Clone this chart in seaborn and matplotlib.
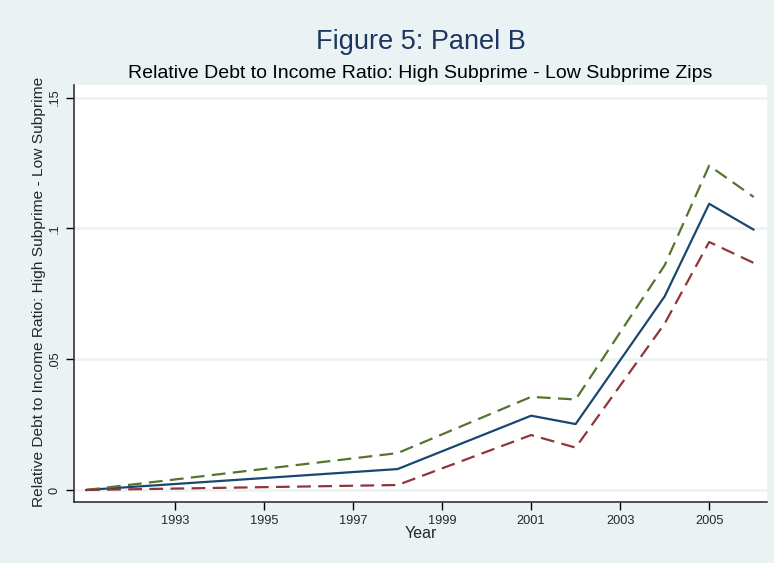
import numpy as np
import pandas as pd
import seaborn as sns
import matplotlib.pyplot as plt

# values
years = [1991, 1998, 2001, 2002, 2004, 2005, 2006]
estimate = [0.0, 0.0080, 0.0284, 0.0252, 0.0740, 0.1094, 0.0995]
upper_ci = [0.0, 0.0141, 0.0356, 0.0346, 0.0859, 0.1240, 0.1120]
lower_ci = [0.0, 0.0019, 0.0210, 0.0162, 0.0636, 0.0948, 0.0868]

x_ticks = [1993, 1995, 1997, 1999, 2001, 2003, 2005]
y_ticks = [0, 0.05, 0.10, 0.15]
y_tick_labels = ["0", ".05", ".1", ".15"]

BG = "#eaf2f3"
NAVY = "#1a476f"
GREEN = "#55752f"
MAROON = "#90353b"

df = pd.DataFrame({"year": years, "est": estimate, "hi": upper_ci, "lo": lower_ci})

sns.set_style("white")
plt.rcParams["font.family"] = ["Liberation Sans", "DejaVu Sans"]

fig = plt.figure(figsize=(7.74, 5.63), dpi=100, facecolor=BG)
ax = fig.add_axes([0.0956, 0.1083, 0.8954, 0.7407])
ax.set_facecolor("white")

for y in y_ticks:
    ax.axhline(y, color=BG, lw=1.8, zorder=0)

sns.lineplot(data=df, x="year", y="est", ax=ax, color=NAVY, lw=1.6)
sns.lineplot(data=df, x="year", y="hi", ax=ax, color=GREEN, lw=1.6)
sns.lineplot(data=df, x="year", y="lo", ax=ax, color=MAROON, lw=1.6)
ax.lines[-2].set_dashes((6.2, 3.3))
ax.lines[-1].set_dashes((6.2, 3.3))

ax.set_xlim(1990.73, 2006.3)
ax.set_ylim(-0.0046, 0.1548)
ax.set_xticks(x_ticks)
ax.set_xticklabels([str(t) for t in x_ticks], fontsize=9.2)
ax.set_yticks(y_ticks)
ax.set_yticklabels(y_tick_labels, fontsize=9.2, rotation=90, va="center")
ax.tick_params(axis="both", direction="out", length=6, width=1, color="black",
               bottom=True, left=True, pad=3.5)

for side in ["top", "right"]:
    ax.spines[side].set_visible(False)
for side in ["left", "bottom"]:
    ax.spines[side].set_color("#333333")
    ax.spines[side].set_linewidth(1.2)

ax.set_xlabel("Year", fontsize=11.5, labelpad=-1)
ax.set_ylabel("Relative Debt to Income Ratio: High Subprime - Low Subprime",
              fontsize=11.15, va="center")
ax.yaxis.set_label_coords(-0.051, 0.505)

fig.text(0.5433, 0.925, "Figure 5: Panel B", ha="center", va="center", fontsize=19.5, color="#1e3560")
fig.text(0.5433, 0.87, "Relative Debt to Income Ratio: High Subprime - Low Subprime Zips",
         ha="center", va="center", fontsize=14, color="black")

fig.savefig("out.png", dpi=100, facecolor=BG)
